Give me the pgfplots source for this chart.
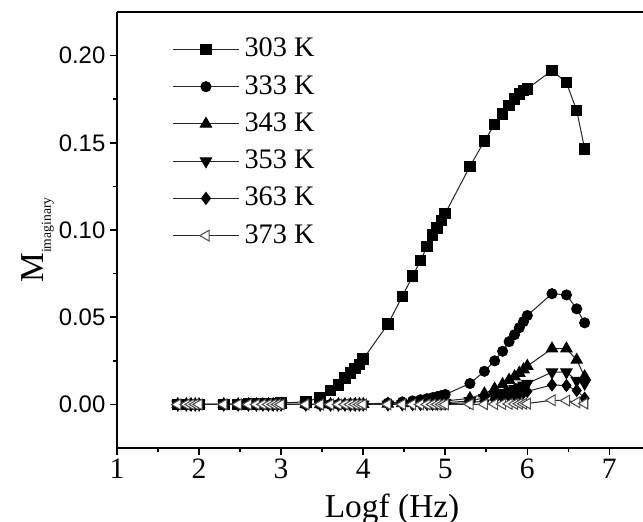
\documentclass[border=0pt]{standalone}
\usepackage{fontspec}
\setmainfont{Liberation Serif}
\newfontfamily\ysans{Liberation Sans}
\usepackage{pgfplots}
\pgfplotsset{compat=1.18}
\usepackage{pgfplotstable}

\pgfplotstableread{
x y
1.740 0.0000
1.845 0.0000
1.903 0.0000
1.954 0.0000
2.000 0.0000
2.301 0.0000
2.477 0.0000
2.602 0.0001
2.699 0.0001
2.778 0.0002
2.845 0.0003
2.903 0.0004
2.954 0.0006
3.000 0.0008
3.301 0.0015
3.477 0.0040
3.602 0.0080
3.699 0.0110
3.778 0.0150
3.845 0.0180
3.903 0.0205
3.954 0.0230
4.000 0.0260
4.301 0.0460
4.477 0.0620
4.602 0.0735
4.699 0.0825
4.778 0.0905
4.845 0.0970
4.903 0.1010
4.954 0.1055
5.000 0.1095
5.301 0.1365
5.477 0.1510
5.602 0.1605
5.699 0.1665
5.778 0.1715
5.845 0.1750
5.903 0.1780
5.954 0.1800
6.000 0.1810
6.301 0.1915
6.477 0.1845
6.602 0.1685
6.699 0.1465
}\tA

\pgfplotstableread{
x y
1.740 0.0000
1.845 0.0000
1.903 0.0000
1.954 0.0000
2.000 0.0000
2.301 0.0000
2.477 0.0000
2.602 0.0000
2.699 0.0000
2.778 0.0000
2.845 0.0000
2.903 0.0000
2.954 0.0000
3.000 0.0000
3.301 0.0000
3.477 0.0000
3.602 0.0000
3.699 0.0001
3.778 0.0001
3.845 0.0001
3.903 0.0002
3.954 0.0002
4.000 0.0003
4.301 0.0008
4.477 0.0014
4.602 0.0020
4.699 0.0027
4.778 0.0033
4.845 0.0039
4.903 0.0045
4.954 0.0051
5.000 0.0057
5.301 0.0120
5.477 0.0190
5.602 0.0250
5.699 0.0305
5.778 0.0360
5.845 0.0400
5.903 0.0440
5.954 0.0475
6.000 0.0510
6.301 0.0635
6.477 0.0628
6.602 0.0548
6.699 0.0468
}\tB

\pgfplotstableread{
x y
1.740 0.0000
1.845 0.0000
1.903 0.0000
1.954 0.0000
2.000 0.0000
2.301 0.0000
2.477 0.0000
2.602 0.0000
2.699 0.0000
2.778 0.0000
2.845 0.0000
2.903 0.0000
2.954 0.0000
3.000 0.0000
3.301 0.0000
3.477 0.0000
3.602 0.0000
3.699 0.0000
3.778 0.0000
3.845 0.0000
3.903 0.0001
3.954 0.0001
4.000 0.0001
4.301 0.0003
4.477 0.0006
4.602 0.0008
4.699 0.0010
4.778 0.0012
4.845 0.0014
4.903 0.0016
4.954 0.0018
5.000 0.0020
5.301 0.0035
5.477 0.0062
5.602 0.0090
5.699 0.0115
5.778 0.0140
5.845 0.0160
5.903 0.0180
5.954 0.0200
6.000 0.0220
6.301 0.0320
6.477 0.0320
6.602 0.0255
6.699 0.0160
}\tC

\pgfplotstableread{
x y
1.740 0.0000
1.845 0.0000
1.903 0.0000
1.954 0.0000
2.000 0.0000
2.301 0.0000
2.477 0.0000
2.602 0.0000
2.699 0.0000
2.778 0.0000
2.845 0.0000
2.903 0.0000
2.954 0.0000
3.000 0.0000
3.301 0.0000
3.477 0.0000
3.602 0.0000
3.699 0.0000
3.778 0.0000
3.845 0.0000
3.903 0.0000
3.954 0.0000
4.000 0.0000
4.301 0.0001
4.477 0.0002
4.602 0.0003
4.699 0.0004
4.778 0.0005
4.845 0.0006
4.903 0.0007
4.954 0.0008
5.000 0.0010
5.301 0.0020
5.477 0.0038
5.602 0.0052
5.699 0.0066
5.778 0.0080
5.845 0.0090
5.903 0.0100
5.954 0.0110
6.000 0.0120
6.301 0.0185
6.477 0.0185
6.602 0.0137
6.699 0.0120
}\tD

\pgfplotstableread{
x y
1.740 0.0000
1.845 0.0000
1.903 0.0000
1.954 0.0000
2.000 0.0000
2.301 0.0000
2.477 0.0000
2.602 0.0000
2.699 0.0000
2.778 0.0000
2.845 0.0000
2.903 0.0000
2.954 0.0000
3.000 0.0000
3.301 0.0000
3.477 0.0000
3.602 0.0000
3.699 0.0000
3.778 0.0000
3.845 0.0000
3.903 0.0000
3.954 0.0000
4.000 0.0000
4.301 0.0000
4.477 0.0001
4.602 0.0001
4.699 0.0001
4.778 0.0002
4.845 0.0002
4.903 0.0003
4.954 0.0003
5.000 0.0004
5.301 0.0010
5.477 0.0020
5.602 0.0030
5.699 0.0040
5.778 0.0048
5.845 0.0055
5.903 0.0062
5.954 0.0068
6.000 0.0075
6.301 0.0112
6.477 0.0108
6.602 0.0080
6.699 0.0035
}\tE

\pgfplotstableread{
x y
1.740 0.0000
1.845 0.0000
1.903 0.0000
1.954 0.0000
2.000 0.0000
2.301 0.0000
2.477 0.0000
2.602 0.0000
2.699 0.0000
2.778 0.0000
2.845 0.0000
2.903 0.0000
2.954 0.0000
3.000 0.0000
3.301 0.0000
3.477 0.0000
3.602 0.0000
3.699 0.0000
3.778 0.0000
3.845 0.0000
3.903 0.0000
3.954 0.0000
4.000 0.0000
4.301 0.0000
4.477 0.0000
4.602 0.0000
4.699 0.0000
4.778 0.0000
4.845 0.0000
4.903 0.0000
4.954 0.0000
5.000 0.0000
5.301 0.0001
5.477 0.0001
5.602 0.0002
5.699 0.0002
5.778 0.0003
5.845 0.0003
5.903 0.0004
5.954 0.0004
6.000 0.0005
6.301 0.0024
6.477 0.0022
6.602 0.0012
6.699 0.0005
}\tF

\begin{document}
\begin{tikzpicture}
\begin{axis}[
  scale only axis,
  width=204.6pt, height=169.6pt,
  xmin=1, xmax=7.41,
  ymin=-0.025, ymax=0.225,
  axis x line*=box,
  axis y line*=left,
  axis line style={line width=0.8pt},
  xtick={1,2,3,4,5,6,7},
  ytick={0,0.05,0.10,0.15,0.20},
  minor x tick num=1,
  minor y tick num=1,
  xtick pos=bottom,
  ytick pos=left,
  tick align=outside,
  major tick length=2.6pt,
  minor tick length=1.6pt,
  tick style={line width=0.6pt, black},
  /pgf/number format/assume math mode=true,
  yticklabel style={font=\ysans\fontsize{9.3}{11}\selectfont, xshift=1.6pt,
    /pgf/number format/fixed, /pgf/number format/fixed zerofill,
    /pgf/number format/precision=2},
  xticklabel style={font=\fontsize{11.5}{13}\selectfont, yshift=2pt},
  scaled y ticks=false,
  xlabel={Logf (Hz)},
  xlabel style={font=\fontsize{13}{15}\selectfont, at={(axis description cs:0.523,-0.16)}, anchor=base},
  ylabel={M\raisebox{-0.45ex}{\fontsize{5.3}{6}\selectfont imaginary}},
  ylabel style={font=\fontsize{13}{15}\selectfont, at={(axis description cs:-0.139,0.477)}, anchor=base},
  legend cell align=left,
  legend style={at={(axis description cs:0.09,0.965)}, anchor=north west, draw=none, fill=none,
    font=\fontsize{11}{13}\selectfont, row sep=1.7pt,
    /tikz/every even column/.append style={column sep=2pt}},
  legend image code/.code={%
    \draw[mark repeat=2, mark phase=2] plot coordinates {(0pt,0pt) (12.8pt,0pt) (25.6pt,0pt)};},
  every axis plot/.append style={line width=0.4pt, color=black!85},
  clip=false,
]
\addplot[mark=square*, mark size=2.05pt, mark options={fill=black, draw=black, solid}] table {\tA};
\addlegendentry{303 K}
\addplot[mark=*, mark size=1.95pt, mark options={fill=black, draw=black, solid}] table {\tB};
\addlegendentry{333 K}
\addplot[mark=triangle*, mark size=2.5pt, mark options={fill=black, draw=black, solid}] table {\tC};
\addlegendentry{343 K}
\addplot[mark=triangle*, mark size=2.5pt, mark options={fill=black, draw=black, solid, rotate=180}] table {\tD};
\addlegendentry{353 K}
\addplot[mark=diamond*, mark size=2.3pt, mark options={fill=black, draw=black, solid}] table {\tE};
\addlegendentry{363 K}
\addplot[mark=triangle*, mark size=2.4pt, mark options={fill=white, draw=black!70, solid, rotate=90, line width=0.4pt}] table {\tF};
\addlegendentry{373 K}
\end{axis}
\pgfresetboundingbox
\path[use as bounding box] ([xshift=-45.5pt, yshift=-28.4pt]current axis.south west) rectangle ([yshift=4.67pt]current axis.north east);
\end{tikzpicture}
\end{document}
